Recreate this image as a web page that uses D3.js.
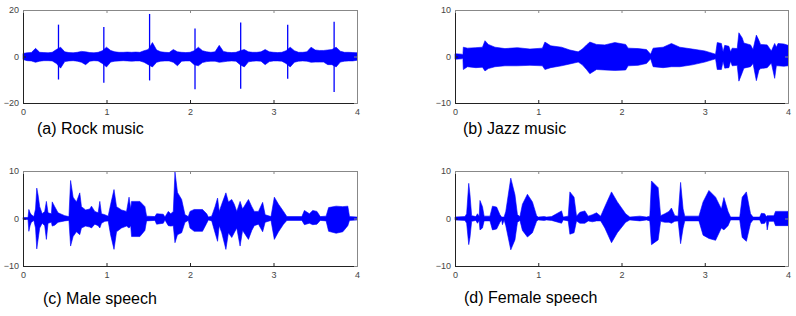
<!DOCTYPE html>
<html>
<head>
<meta charset="utf-8">
<script src="https://cdn.jsdelivr.net/npm/d3@7"></script>
<style>
  body { margin: 0; background: #fff; }
  svg { display: block; }
</style>
</head>
<body>
<script>
var width = 796;
var height = 316;

// x ticks shared by all four panels (seconds)
var xTicks = [0, 1, 2, 3, 4];
var yTicksRock = [-20, 0, 20];
var yTicksOther = [-10, 0, 10];

var titles = ["(a) Rock music", "(b) Jazz music", "(c) Male speech", "(d) Female speech"];

// (a) rock music: envelope of the noise band, plus drum hits drawn as spikes
var rockTime  = [0,0.05,0.1,0.15,0.2,0.25,0.3,0.35,0.4,0.45,0.5,0.55,0.6,0.65,0.7,0.75,0.8,0.85,0.9,0.95,
                 1,1.05,1.1,1.15,1.2,1.25,1.3,1.35,1.4,1.45,1.5,1.55,1.6,1.65,1.7,1.75,1.8,1.85,1.9,1.95,
                 2,2.05,2.1,2.15,2.2,2.25,2.3,2.35,2.4,2.45,2.5,2.55,2.6,2.65,2.7,2.75,2.8,2.85,2.9,2.95,
                 3,3.05,3.1,3.15,3.2,3.25,3.3,3.35,3.4,3.45,3.5,3.55,3.6,3.65,3.7,3.75,3.8,3.85,3.9,3.95,4];
var rockUpper = [1.3,1.6,1.7,3.5,1.8,1.7,1.6,1.8,3.0,4.0,2.0,1.7,1.6,1.8,2.2,2.0,1.7,1.6,1.8,2.5,
                 4.0,2.6,2.0,1.8,1.8,1.9,1.8,1.9,1.8,2.5,3.0,6.0,2.8,2.0,1.8,1.7,3.0,2.0,1.8,1.7,
                 1.8,2.5,4.0,2.5,2.0,1.8,2.0,4.8,2.2,1.8,1.7,1.8,2.5,3.0,2.0,1.8,1.8,2.0,3.0,2.0,
                 1.8,1.7,1.8,2.5,4.0,2.5,1.8,1.8,2.0,4.0,2.8,2.6,2.6,2.8,3.0,4.0,2.3,1.8,1.8,1.7,1.6];
var rockLower = [-1.3,-1.8,-1.9,-2.5,-2.0,-1.8,-1.8,-1.9,-3.0,-5.0,-2.2,-1.9,-1.8,-2.0,-2.5,-3.5,-2.0,-1.8,-1.9,-3.0,
                 -4.5,-2.4,-2.0,-1.9,-1.8,-1.9,-2.0,-1.9,-1.9,-2.5,-3.5,-4.5,-2.5,-2.0,-1.9,-1.9,-2.5,-4.0,-2.0,-1.9,
                 -1.9,-3.5,-4.0,-2.6,-2.2,-2.0,-2.0,-2.5,-2.3,-2.0,-1.9,-2.0,-3.5,-4.5,-2.3,-2.0,-1.9,-2.0,-3.5,-2.2,
                 -1.9,-1.9,-2.0,-3.0,-4.5,-2.5,-2.0,-1.9,-2.0,-2.5,-2.4,-2.4,-2.4,-3.5,-3.5,-4.5,-2.4,-2.0,-1.9,-1.9,-1.6];
var rockSpikeTime   = [0.425, 0.968, 1.516, 2.06, 2.607, 3.17, 3.726];
var rockSpikeTop    = [13.7, 12.7, 18.3, 12.0, 14.6, 13.7, 14.9];
var rockSpikeBottom = [-9.9, -11.3, -10.3, -14.1, -13.9, -9.6, -15.3];

// (b) jazz music envelope breakpoints
var jazzTime  = [0,0.08,0.095,0.1,0.15,0.25,0.33,0.36,0.4,0.48,0.6,0.75,0.9,1.05,1.08,1.15,1.28,1.38,1.48,1.53,
                 1.58,1.62,1.7,1.8,1.92,2.05,2.08,2.2,2.3,2.35,2.38,2.5,2.6,2.7,2.85,3.0,3.13,3.15,3.2,3.22,
                 3.24,3.29,3.31,3.33,3.39,3.41,3.45,3.47,3.55,3.58,3.62,3.65,3.67,3.75,3.8,3.84,3.86,3.88,3.95,4];
var jazzUpper = [0.6,0.5,0.4,2.0,1.8,1.9,2.0,3.4,2.6,2.0,1.7,1.9,1.6,1.8,3.1,2.3,2.0,1.4,1.0,1.6,
                 2.5,3.1,2.6,2.5,3.0,2.6,1.8,1.7,1.5,0.5,1.8,2.0,2.8,2.0,1.6,1.2,0.5,3.0,2.8,1.0,
                 2.4,2.2,1.0,1.8,1.7,5.1,4.0,2.9,2.5,1.5,4.6,3.5,2.6,2.5,1.2,2.8,2.0,2.8,2.7,2.4];
var jazzLower = [-0.6,-0.5,-0.4,-2.8,-2.2,-2.4,-2.3,-3.1,-2.6,-2.2,-2.0,-2.0,-1.9,-2.0,-2.8,-2.4,-2.0,-1.6,-1.2,-1.8,
                 -2.8,-3.7,-2.8,-2.9,-3.0,-2.9,-2.0,-1.9,-1.5,-0.5,-2.2,-2.4,-2.2,-2.2,-1.8,-1.2,-0.5,-2.8,-2.8,-1.0,
                 -2.5,-2.4,-1.0,-2.0,-1.9,-5.3,-3.5,-2.5,-2.2,-1.5,-5.2,-3.0,-2.6,-2.4,-1.4,-4.7,-2.0,-2.0,-2.1,-2.0];

// (c) male speech envelope breakpoints
var maleTime  = [0,0.06,0.07,0.085,0.1,0.13,0.15,0.165,0.18,0.2,0.23,0.26,0.28,0.3,0.34,0.35,0.38,0.42,0.5,0.55,
                 0.57,0.6,0.64,0.68,0.7,0.75,0.8,0.82,0.86,0.9,0.92,0.94,0.98,1.02,1.05,1.09,1.12,1.18,1.24,1.27,
                 1.29,1.3,1.4,1.46,1.48,1.58,1.6,1.68,1.7,1.74,1.77,1.8,1.82,1.85,1.9,1.94,1.98,2.0,2.05,2.15,
                 2.2,2.22,2.26,2.3,2.33,2.35,2.38,2.43,2.46,2.5,2.53,2.56,2.6,2.63,2.7,2.74,2.77,2.82,2.87,2.9,
                 2.97,3.01,3.06,3.12,3.16,3.34,3.37,3.43,3.47,3.52,3.56,3.63,3.66,3.75,3.83,3.89,3.91,4];
var maleUpper = [0.2,0.2,1.9,1.2,0.8,0.4,2.0,6.4,5.0,2.5,1.0,1.5,3.6,1.2,1.0,3.5,2.5,1.2,0.6,0.4,
                 8.0,4.5,3.5,5.4,2.5,1.8,2.0,2.6,1.5,1.2,3.6,1.0,0.8,0.5,3.0,6.1,2.5,1.8,1.5,4.5,
                 2.0,3.6,3.6,2.5,0.5,0.4,1.0,0.9,0.3,1.5,1.0,1.5,9.8,5.5,4.0,0.8,0.4,1.5,1.9,1.9,
                 1.0,0.3,0.5,2.5,4.3,1.5,3.0,5.4,3.5,4.0,3.0,1.5,3.6,2.0,4.0,2.5,1.5,1.5,3.4,0.8,
                 0.4,4.5,3.0,1.5,0.4,0.4,1.7,1.0,1.7,1.5,0.4,0.5,2.3,2.6,2.5,2.6,0.4,0.3];
var maleLower = [-0.2,-0.2,-2.7,-1.5,-0.8,-0.4,-2.0,-6.4,-4.5,-2.0,-1.0,-1.5,-4.4,-1.0,-0.8,-1.6,-1.4,-0.8,-0.5,-0.4,
                 -5.8,-3.8,-2.8,-3.4,-2.0,-1.6,-1.8,-2.0,-1.2,-1.5,-2.0,-1.0,-0.6,-0.5,-3.5,-6.5,-2.8,-2.0,-1.6,-2.0,
                 -1.5,-3.8,-3.8,-2.5,-0.5,-0.4,-1.2,-1.0,-0.3,-1.5,-1.6,-1.5,-5.1,-3.4,-3.0,-0.8,-0.4,-2.0,-2.7,-2.7,
                 -1.0,-0.3,-0.5,-3.0,-4.8,-1.5,-3.0,-6.5,-3.0,-4.0,-3.0,-2.0,-5.8,-2.5,-4.4,-2.5,-1.5,-1.2,-2.8,-0.8,
                 -0.4,-4.4,-2.8,-1.2,-0.4,-0.4,-1.3,-1.0,-1.3,-1.2,-0.4,-0.5,-2.7,-3.1,-2.8,-1.5,-0.4,-0.3];

// (d) female speech envelope breakpoints
var femaleTime  = [0,0.12,0.14,0.165,0.18,0.2,0.25,0.27,0.29,0.3,0.33,0.35,0.42,0.45,0.5,0.54,0.56,0.57,0.59,0.61,
                   0.67,0.72,0.75,0.78,0.81,0.87,0.93,0.98,1.0,1.07,1.1,1.16,1.28,1.3,1.36,1.38,1.43,1.46,1.5,1.56,
                   1.6,1.65,1.7,1.75,1.8,1.88,1.95,2.05,2.1,2.22,2.3,2.34,2.36,2.44,2.47,2.52,2.57,2.6,2.64,2.68,
                   2.71,2.74,2.76,2.93,2.98,3.05,3.13,3.2,3.23,3.28,3.31,3.42,3.45,3.5,3.55,3.58,3.66,3.68,3.72,3.74,
                   3.75,3.77,3.83,3.85,4];
var femaleUpper = [0.3,0.4,1.0,7.4,5.0,0.6,0.4,1.0,0.4,3.8,2.5,0.5,0.5,2.6,2.4,0.8,0.3,0.3,0.3,1.5,
                   8.5,5.0,0.8,0.4,3.0,5.1,3.5,0.6,0.3,0.4,0.3,0.4,1.6,0.3,0.5,5.6,4.5,0.5,1.3,1.6,
                   0.5,0.8,1.2,0.5,2.5,5.6,3.5,1.0,0.3,0.5,0.3,0.5,7.9,6.5,0.6,1.0,1.5,2.2,0.6,0.5,
                   7.6,2.0,0.5,0.5,3.5,5.9,4.5,2.0,4.4,1.5,0.3,0.3,4.5,5.6,1.0,0.3,0.3,1.1,1.0,0.4,
                   0.6,0.6,0.6,1.5,1.5];
var femaleLower = [-0.3,-0.4,-1.0,-5.5,-4.0,-0.6,-0.4,-1.0,-0.4,-2.4,-2.0,-0.5,-0.5,-2.4,-2.2,-0.8,-0.3,-1.3,-0.3,-1.5,
                   -6.6,-4.5,-0.8,-0.4,-2.5,-3.9,-3.0,-0.6,-0.3,-0.4,-0.3,-0.4,-1.0,-0.3,-0.5,-3.3,-3.0,-0.5,-1.0,-1.0,
                   -0.5,-0.7,-0.5,-0.5,-2.0,-5.1,-3.0,-0.8,-0.3,-0.5,-0.3,-0.5,-5.5,-4.5,-0.6,-0.8,-0.8,-1.0,-0.6,-0.5,
                   -5.3,-2.0,-0.5,-0.5,-3.5,-4.2,-4.6,-2.0,-2.4,-1.5,-0.3,-0.3,-4.0,-4.8,-1.0,-0.3,-0.3,-1.1,-1.0,-0.4,
                   -2.4,-0.6,-0.6,-1.5,-1.5];

var svg = d3.select("body").append("svg")
    .attr("width", width)
    .attr("height", height);

function toRows(time, upper, lower){
    return time.map(function(t, i){ return {t: t, up: upper[i], lo: lower[i]}; });
}

// one axes box with waveform inside
function drawPanel(p){
    var w = p.right - p.left, h = p.bottom - p.top;
    var x = d3.scaleLinear().domain([0, 4]).range([0, w]);
    var y = d3.scaleLinear().domain(p.yDomain).range([h, 0]);
    var g = svg.append("g").attr("transform", "translate(" + p.left + "," + p.top + ")");

    var area = d3.area()
        .x(function(d){ return x(d.t); })
        .y0(function(d){ return y(d.lo); })
        .y1(function(d){ return y(d.up); });

    g.append("path")
        .datum(p.rows)
        .attr("d", area)
        .attr("fill", "#0000ff")
        .attr("stroke", "#0000ff")
        .attr("stroke-width", 0.6);

    if (p.spikes){
        g.selectAll(".spike").data(p.spikes).enter().append("line")
            .attr("class", "spike")
            .attr("x1", function(d){ return x(d.t); })
            .attr("x2", function(d){ return x(d.t); })
            .attr("y1", function(d){ return y(d.top); })
            .attr("y2", function(d){ return y(d.bottom); })
            .attr("stroke", "#0000ff")
            .attr("stroke-width", 1.3);
    }

    // inward ticks on all four sides, labels only bottom and left
    var fmt = d3.format("d");
    var xb = g.append("g").attr("transform", "translate(0," + h + ")")
        .call(d3.axisBottom(x).tickValues(xTicks).tickFormat(fmt).tickSizeInner(-3).tickSizeOuter(0).tickPadding(6));
    var yl = g.append("g")
        .call(d3.axisLeft(y).tickValues(p.yTicks).tickFormat(fmt).tickSizeInner(-3).tickSizeOuter(0).tickPadding(6));
    var xt = g.append("g")
        .call(d3.axisTop(x).tickValues(xTicks).tickSizeInner(-3).tickSizeOuter(0).tickFormat(""));
    var yr = g.append("g").attr("transform", "translate(" + w + ",0)")
        .call(d3.axisRight(y).tickValues(p.yTicks).tickSizeInner(-3).tickSizeOuter(0).tickFormat(""));

    [xb, yl].forEach(function(a){
        a.select(".domain").attr("stroke", "#222");
        a.selectAll(".tick line").attr("stroke", "#222");
        a.selectAll(".tick text")
            .attr("fill", "#444")
            .style("font-family", "Liberation Sans, Arial, sans-serif")
            .style("font-size", "9px");
    });
    [xt, yr].forEach(function(a){
        a.select(".domain").attr("stroke", "#888");
        a.selectAll(".tick line").attr("stroke", "#888");
    });
    yl.selectAll(".tick text").attr("x", -4);

    svg.append("text")
        .attr("x", p.labelX)
        .attr("y", p.labelY)
        .text(p.title)
        .attr("fill", "#000")
        .style("font-family", "Liberation Sans, Arial, sans-serif")
        .style("font-size", "16px");
}

drawPanel({left: 23, right: 357, top: 10, bottom: 103, yDomain: [-20, 20], yTicks: yTicksRock,
    rows: toRows(rockTime, rockUpper, rockLower),
    spikes: rockSpikeTime.map(function(t, i){ return {t: t, top: rockSpikeTop[i], bottom: rockSpikeBottom[i]}; }),
    title: titles[0], labelX: 37, labelY: 134});
drawPanel({left: 455, right: 788, top: 10, bottom: 103, yDomain: [-10, 10], yTicks: yTicksOther,
    rows: toRows(jazzTime, jazzUpper, jazzLower),
    title: titles[1], labelX: 463, labelY: 134});
drawPanel({left: 23, right: 357, top: 171, bottom: 266, yDomain: [-10, 10], yTicks: yTicksOther,
    rows: toRows(maleTime, maleUpper, maleLower),
    title: titles[2], labelX: 43, labelY: 304});
drawPanel({left: 455, right: 788, top: 171, bottom: 266, yDomain: [-10, 10], yTicks: yTicksOther,
    rows: toRows(femaleTime, femaleUpper, femaleLower),
    title: titles[3], labelX: 464, labelY: 303});
</script>
</body>
</html>
